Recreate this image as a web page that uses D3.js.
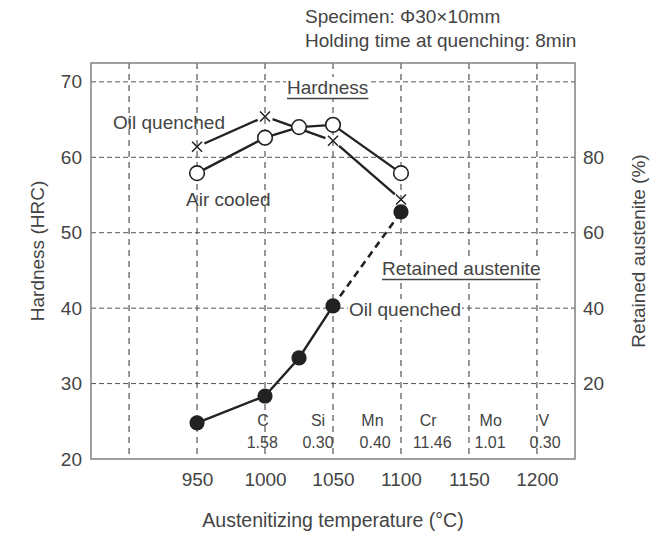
<!DOCTYPE html>
<html><head><meta charset="utf-8">
<script src="https://cdn.jsdelivr.net/npm/d3@7/dist/d3.min.js"></script>
<style>body{margin:0;background:#fff}svg{display:block}text{font-family:"Liberation Sans",Arial,sans-serif;fill:#444}</style>
</head><body><svg id="c" width="651" height="537"></svg>
<script>
const temps = [950, 1000, 1025, 1050, 1100];
const oilTemps = [950, 1000, 1050, 1100];
const oilHardness = [61.4, 65.4, 62.2, 54.4];
const airHardness = [57.9, 62.6, 64.0, 64.3, 57.9];
const retained = [9.6, 16.7, 26.8, 40.6, 65.5];
const xTicks = [950, 1000, 1050, 1100, 1150, 1200];
const xGrid = [900, 950, 1000, 1050, 1100, 1150, 1200];
const yLeftTicks = [20, 30, 40, 50, 60, 70];
const yRightTicks = [20, 40, 60, 80];
const elements = ["C", "Si", "Mn", "Cr", "Mo", "V"];
const elementValues = ["1.58", "0.30", "0.40", "11.46", "1.01", "0.30"];
const elementX = [998.5, 1039, 1079, 1120, 1166, 1205];
const valueX = [998, 1039, 1081, 1123, 1165.5, 1206];

const svg = d3.select("#c");
const L = 91, R = 575, T = 63, B = 459;
const x = d3.scaleLinear().domain([872, 1228]).range([L, R]);
const yL = d3.scaleLinear().domain([20, 72.5]).range([B, T]);
const yR = d3.scaleLinear().domain([0, 105]).range([B, T]);
const ink = "#222";

// grid
const g = svg.append("g");
g.selectAll("line.h").data([30, 40, 50, 60, 70]).join("line")
  .attr("x1", L).attr("x2", R).attr("y1", d => yL(d)).attr("y2", d => yL(d))
  .attr("stroke", "#555").attr("stroke-width", 1).attr("stroke-dasharray", "5,3");
g.selectAll("line.v").data(xGrid).join("line")
  .attr("x1", d => x(d)).attr("x2", d => x(d)).attr("y1", T).attr("y2", B)
  .attr("stroke", "#555").attr("stroke-width", 1.2).attr("stroke-dasharray", "6,5");

// frame
svg.append("rect").attr("x", L).attr("y", T).attr("width", R - L).attr("height", B - T)
  .attr("fill", "none").attr("stroke", "#808080").attr("stroke-width", 1.5);

// axes
const fmt = d3.format("d");
const axL = svg.append("g").attr("transform", `translate(${L},0)`)
  .call(d3.axisLeft(yL).tickValues(yLeftTicks).tickFormat(fmt).tickSize(0).tickPadding(9));
const axR = svg.append("g").attr("transform", `translate(${R},0)`)
  .call(d3.axisRight(yR).tickValues(yRightTicks).tickFormat(fmt).tickSize(0).tickPadding(8));
const axB = svg.append("g").attr("transform", `translate(0,${B})`)
  .call(d3.axisBottom(x).tickValues(xTicks).tickFormat(fmt).tickSize(0).tickPadding(14));
[axL, axR, axB].forEach(a => { a.select(".domain").remove(); a.selectAll("text").style("font-size", "19px").style("font-family", "'Liberation Sans',Arial,sans-serif").attr("fill", "#444"); });

// axis titles
svg.append("text").attr("transform", `translate(44,251) rotate(-90)`).attr("text-anchor", "middle").style("font-size", "19px").text("Hardness (HRC)");
svg.append("text").attr("transform", `translate(645,251) rotate(-90)`).attr("text-anchor", "middle").style("font-size", "19px").text("Retained austenite (%)");
svg.append("text").attr("x", 333).attr("y", 527).attr("text-anchor", "middle").style("font-size", "19.5px").text("Austenitizing temperature (°C)");

// top notes
svg.append("text").attr("x", 305).attr("y", 23).style("font-size", "19px").text("Specimen: Φ30×10mm");
svg.append("text").attr("x", 305).attr("y", 47).style("font-size", "19px").text("Holding time at quenching: 8min");

// helper for shortened segments
function segs(pts, gap0, gap1) {
  const out = [];
  for (let i = 0; i < pts.length - 1; i++) {
    const [x0, y0] = pts[i], [x1, y1] = pts[i + 1];
    const dx = x1 - x0, dy = y1 - y0, len = Math.hypot(dx, dy);
    const ux = dx / len, uy = dy / len;
    out.push({ x1: x0 + ux * gap0, y1: y0 + uy * gap0, x2: x1 - ux * gap1, y2: y1 - uy * gap1, i });
  }
  return out;
}

// oil quenched hardness (x markers)
const oilPts = oilTemps.map((t, i) => [x(t), yL(oilHardness[i])]);
svg.append("g").selectAll("line").data(segs(oilPts, 8, 8)).join("line")
  .attr("x1", d => d.x1).attr("y1", d => d.y1).attr("x2", d => d.x2).attr("y2", d => d.y2)
  .attr("stroke", ink).attr("stroke-width", 2.4);

// air cooled hardness (open circles)
const airPts = temps.map((t, i) => [x(t), yL(airHardness[i])]);
svg.append("path").attr("d", d3.line()(airPts)).attr("fill", "none").attr("stroke", ink).attr("stroke-width", 2.4);
svg.append("g").selectAll("circle").data(airPts).join("circle")
  .attr("cx", d => d[0]).attr("cy", d => d[1]).attr("r", 7.3)
  .attr("fill", "#fff").attr("stroke", ink).attr("stroke-width", 1.6);

// x markers
svg.append("g").selectAll("path").data(oilPts).join("path")
  .attr("d", d => `M${d[0] - 5},${d[1] - 5}L${d[0] + 5},${d[1] + 5}M${d[0] - 5},${d[1] + 5}L${d[0] + 5},${d[1] - 5}`)
  .attr("stroke", ink).attr("stroke-width", 1.5);

// retained austenite
const raPts = temps.map((t, i) => [x(t), yR(retained[i])]);
svg.append("path").attr("d", d3.line()(raPts.slice(0, 4))).attr("fill", "none").attr("stroke", ink).attr("stroke-width", 2.4);
svg.append("path").attr("d", d3.line()(raPts.slice(3))).attr("fill", "none").attr("stroke", ink).attr("stroke-width", 2.6).attr("stroke-dasharray", "7,5");
svg.append("g").selectAll("circle").data(raPts).join("circle")
  .attr("cx", d => d[0]).attr("cy", d => d[1]).attr("r", 7.6).attr("fill", ink);

// labels
function label(txt, xx, yy, underline, bg) {
  const t = svg.append("text").attr("x", xx).attr("y", yy).style("font-size", "19px").text(txt);
  const bb = t.node().getBBox();
  if (bg) svg.insert("rect", () => t.node()).attr("x", bb.x - 1).attr("y", bb.y).attr("width", bb.width + 2).attr("height", bb.height).attr("fill", "#fff");
  if (underline) svg.append("line").attr("x1", bb.x).attr("x2", bb.x + bb.width).attr("y1", yy + 4.5).attr("y2", yy + 4.5).attr("stroke", "#444").attr("stroke-width", 1.3);
}
label("Hardness", 287, 94, true, true);
label("Oil quenched", 113, 129, false, false);
label("Air cooled", 186, 206, false, false);
label("Retained austenite", 382, 275, true, true);
label("Oil quenched", 349, 316, false, true);

// composition
svg.append("g").selectAll("text").data(elements).join("text")
  .attr("x", (d, i) => x(elementX[i])).attr("y", 426).attr("text-anchor", "middle")
  .style("font-size", "16px").text(d => d);
svg.append("g").selectAll("text").data(elementValues).join("text")
  .attr("x", (d, i) => x(valueX[i])).attr("y", 448).attr("text-anchor", "middle")
  .style("font-size", "16px").text(d => d);
</script></body></html>
